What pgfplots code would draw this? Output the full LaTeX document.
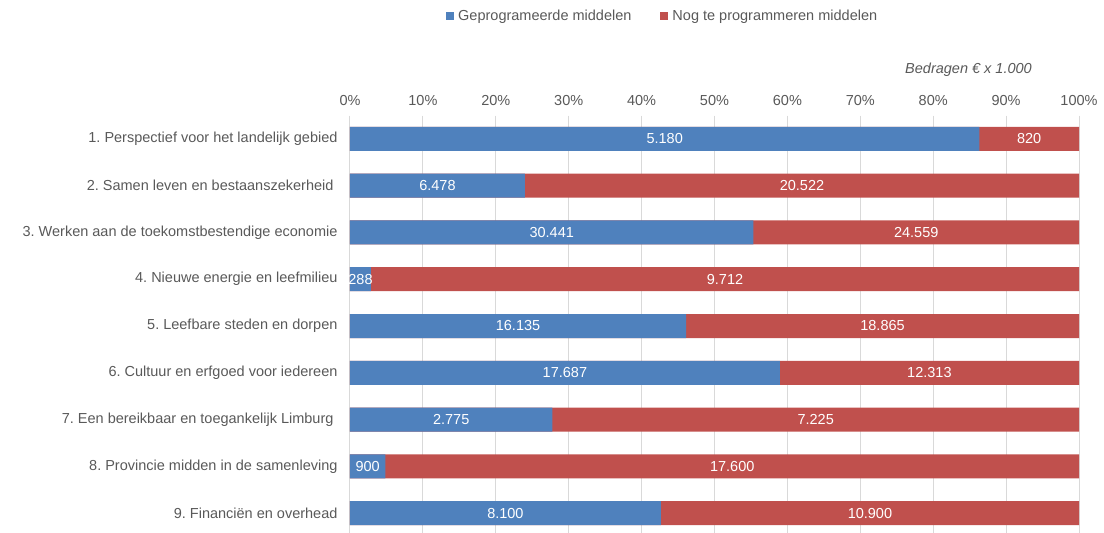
\documentclass[border=0pt]{standalone}
\usepackage{pgfplots}
\pgfplotsset{compat=1.18}
\usepackage{pgfplotstable}
\usepackage{fontspec}
\setmainfont{Liberation Sans}
\frenchspacing
\definecolor{cblue}{HTML}{4F81BD}
\definecolor{cred}{HTML}{C0504D}
\definecolor{ctext}{HTML}{595959}
\definecolor{cgrid}{HTML}{D9D9D9}
\pgfplotstableread{
y pa pb ca cb la lb
1 86.333 100 43.17 93.17 5.180 820
2 23.993 100 12.00 62.00 6.478 20.522
3 55.347 100 27.67 77.67 30.441 24.559
4 2.880 100 1.44 51.44 288 9.712
5 46.100 100 23.05 73.05 16.135 18.865
6 58.957 100 29.48 79.48 17.687 12.313
7 27.750 100 13.88 63.88 2.775 7.225
8 4.865 100 2.43 52.43 900 17.600
9 42.632 100 21.32 71.32 8.100 10.900
}\data
\begin{document}
\begin{tikzpicture}
\useasboundingbox (0,0) rectangle (1104pt,-533pt);
\begin{axis}[
  at={(350pt,-115.6pt)}, anchor=north west,
  scale only axis, width=729pt, height=420.8pt,
  xmin=0, xmax=100, ymin=0.5, ymax=9.5,
  y dir=reverse,
  axis x line*=top, axis y line*=left,
  axis line style={draw=none},
  tick style={draw=none},
  xtick={0,10,...,100},
  xticklabel={\pgfmathprintnumber{\tick}\%},
  /pgf/number format/assume math mode=true,
  xmajorgrids, major grid style={cgrid, line width=1pt},
  ytick={1,...,9},
  yticklabels={1. Perspectief voor het landelijk gebied,
    2. Samen leven en bestaanszekerheid\hspace*{4pt},
    3. Werken aan de toekomstbestendige economie,
    4. Nieuwe energie en leefmilieu,
    5. Leefbare steden en dorpen,
    6. Cultuur en erfgoed voor iedereen,
    7. Een bereikbaar en toegankelijk Limburg\hspace*{4pt},
    8. Provincie midden in de samenleving,
    9. Financiën en overhead},
  ticklabel style={font=\fontsize{14.5}{17}\selectfont, text=ctext},
  yticklabel style={xshift=-9pt},
  xticklabel style={yshift=6pt},
  clip=false,
  legend columns=2,
  legend style={at={(0.1317,1.2367)}, anchor=west, draw=none, fill=none,
    inner xsep=0pt, font=\fontsize{14.5}{17}\selectfont, text=ctext,
    /tikz/every even column/.append style={column sep=27pt}},
  legend image code/.code={\fill[#1, draw=none] (0pt,-4pt) rectangle (8pt,4pt); \path[draw=none, fill=none] (0pt,0pt) -- (10pt,0pt);},
  every node near coord/.append style={anchor=center, text=white, font=\fontsize{14.5}{17}\selectfont},
]
\addlegendimage{fill=cblue}
\addlegendimage{fill=cred}
\legend{Geprogrameerde middelen, Nog te programmeren middelen}
\addplot[xbar, bar shift=0pt, bar width=24pt, fill=cred, draw=none, forget plot] table[x=pb, y=y]{\data};
\addplot[xbar, bar shift=0pt, bar width=24pt, fill=cblue, draw=none, forget plot] table[x=pa, y=y]{\data};
\addplot[draw=none, mark=none, forget plot, nodes near coords, point meta=explicit symbolic] table[x=ca, y=y, meta=la]{\data};
\addplot[draw=none, mark=none, forget plot, nodes near coords, point meta=explicit symbolic] table[x=cb, y=y, meta=lb]{\data};
\node[anchor=east, inner sep=0pt, text=ctext, font=\fontsize{14.5}{17}\selectfont\itshape] at (axis description cs:0.9355,1.1084) {Bedragen € x 1.000};
\end{axis}
\end{tikzpicture}
\end{document}
